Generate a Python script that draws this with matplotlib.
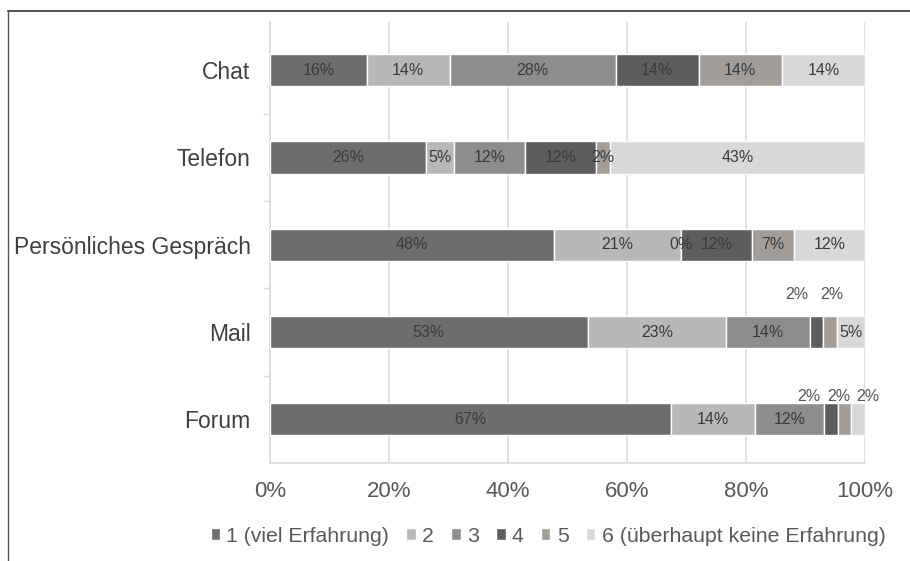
import matplotlib
matplotlib.use("Agg")
import matplotlib.pyplot as plt
from matplotlib.lines import Line2D
import numpy as np

plt.rcParams['font.family'] = ['Liberation Sans', 'DejaVu Sans']

categories = ["Chat", "Telefon", "Persönliches Gespräch", "Mail", "Forum"]
series_names = ["1 (viel Erfahrung)", "2", "3", "4", "5", "6 (überhaupt keine Erfahrung)"]
chat = [16.3, 14.0, 27.9, 14.0, 14.0, 14.0]
telefon = [26.2, 4.8, 11.9, 11.9, 2.4, 42.9]
persoenlich = [47.6, 21.4, 0.0, 11.9, 7.1, 11.9]
mail = [53.4, 23.3, 14.0, 2.3, 2.3, 4.7]
forum = [67.4, 14.0, 11.6, 2.3, 2.3, 2.3]
x_ticks = [0, 0.2, 0.4, 0.6, 0.8, 1.0]
x_ticklabels = ["0%", "20%", "40%", "60%", "80%", "100%"]

colors = ["#6e6d6b", "#b9b8b6", "#8f8d8b", "#5f5e5c", "#a09d9b", "#d9d8d6"]

# label offsets (pixels) for small segments whose labels are placed above the bar
label_offsets = {
    (3, 3): (-20, 38), (3, 4): (2, 38),
    (4, 3): (-22, 23), (4, 4): (-6, 23), (4, 5): (10, 23),
}

rows = [chat, telefon, persoenlich, mail, forum]
data = np.array([np.array(r) / sum(r) for r in rows])

W, H = 910, 561
fig = plt.figure(figsize=(W / 100, H / 100), dpi=100)
ax = fig.add_axes([270 / W, 1 - 463 / H, 595 / W, (463 - 22) / H])

y = np.arange(len(categories))
left = np.zeros(len(categories))
text_color = "#3a3a3a"
for j, name in enumerate(series_names):
    vals = data[:, j]
    ax.barh(y, vals, left=left, height=0.37, color=colors[j], edgecolor="white",
            linewidth=1.0, label=name, zorder=3)
    for i in range(len(categories)):
        pct = rows[i][j]
        cx = left[i] + vals[i] / 2
        lbl = f"{round(pct):d}%"
        if (i, j) in label_offsets:
            dx, dy = label_offsets[(i, j)]
            ax.annotate(lbl, (cx, y[i]), xytext=(dx * 0.72, dy * 0.72),
                        textcoords="offset points", ha="center", va="center",
                        fontsize=11.5, color="#555555", zorder=4)
        else:
            ax.text(cx, y[i], lbl, ha="center", va="center", fontsize=11.5,
                    color=text_color, zorder=4)
    left += vals

ax.set_xlim(0, 1)
ax.set_ylim(4.5, -0.55)
ax.set_xticks(x_ticks)
ax.set_xticklabels(x_ticklabels, fontsize=16, color="#595959")
ax.set_yticks(y)
ax.set_yticklabels(categories, fontsize=16.5, color="#404040")
ax.set_yticks(np.arange(-0.5, 4.5, 1.0)[1:], minor=True)
ax.tick_params(axis="y", which="major", length=0, pad=14)
ax.tick_params(axis="y", which="minor", length=5, color="#d9d9d9", width=1)
ax.tick_params(axis="x", length=0, pad=13)
ax.grid(axis="x", color="#dcdcdc", linewidth=1.2, zorder=0)
for s in ["top", "right"]:
    ax.spines[s].set_visible(False)
ax.spines["left"].set_color("#d9d9d9")
ax.spines["bottom"].set_color("#d9d9d9")
ax.spines["left"].set_linewidth(1.2)
ax.spines["bottom"].set_linewidth(1.2)

leg = fig.legend(loc="center", bbox_to_anchor=(548 / W, 1 - 536 / H), ncol=6,
                 frameon=False, fontsize=15.3, handlelength=0.45, handleheight=0.45,
                 handletextpad=0.3, columnspacing=0.8, borderaxespad=0)
for t in leg.get_texts():
    t.set_color("#595959")

# outer frame (top and left lines)
fig.add_artist(Line2D([8 / W, 1], [1 - 11 / H, 1 - 11 / H], color="#333333", linewidth=1.2))
fig.add_artist(Line2D([8 / W, 8 / W], [0, 1 - 11 / H], color="#555555", linewidth=1.0))

fig.savefig("out.png", dpi=100)
